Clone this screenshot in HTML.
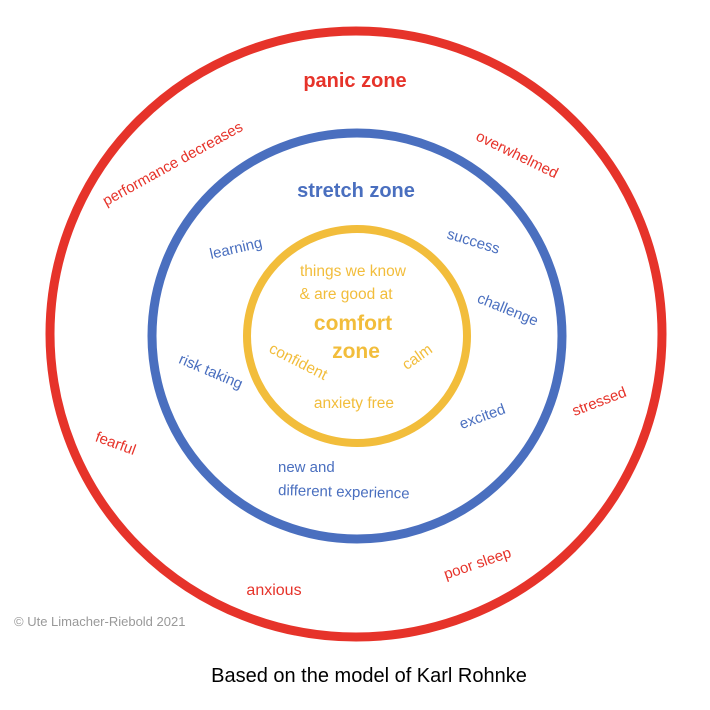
<!DOCTYPE html>
<html><head><meta charset="utf-8"><style>
html,body{margin:0;padding:0;background:#fff;}
svg{display:block;}
text{font-family:"Liberation Sans",sans-serif;}
</style></head><body>
<svg width="710" height="710" viewBox="0 0 710 710" xmlns="http://www.w3.org/2000/svg">
<ellipse cx="356" cy="334" rx="306" ry="303" fill="none" stroke="#e6332a" stroke-width="9"/>
<ellipse cx="357" cy="336" rx="205" ry="203" fill="none" stroke="#4a6fbf" stroke-width="9"/>
<ellipse cx="357" cy="336" rx="110" ry="107" fill="none" stroke="#f2bd3b" stroke-width="8"/>

<g fill="#e6332a" font-size="15" text-anchor="middle">
<text x="355" y="87" font-size="20" font-weight="bold">panic zone</text>
<text transform="translate(175,168) rotate(-29)">performance decreases</text>
<text transform="translate(515,159) rotate(26)">overwhelmed</text>
<text transform="translate(601,406) rotate(-21)">stressed</text>
<text transform="translate(114,448) rotate(20)">fearful</text>
<text transform="translate(479,568) rotate(-19)">poor sleep</text>
<text x="274" y="595" font-size="16">anxious</text>
</g>

<g fill="#4a6fbf" font-size="15" text-anchor="middle">
<text x="356" y="197" font-size="20" font-weight="bold">stretch zone</text>
<text transform="translate(237,253) rotate(-13)">learning</text>
<text transform="translate(472,246) rotate(17)">success</text>
<text transform="translate(506,314) rotate(22)">challenge</text>
<text transform="translate(209,376) rotate(23)">risk taking</text>
<text transform="translate(484,421) rotate(-20)">excited</text>
<text x="278" y="472" text-anchor="start">new and</text>
<text x="278" y="495" text-anchor="start" transform="rotate(1.5,278,495)">different experience</text>
</g>

<g fill="#f2bd3b" font-size="15.5" text-anchor="middle">
<text x="353" y="276">things we know</text>
<text x="346" y="299">&amp; are good at</text>
<text x="353" y="330" font-size="21" font-weight="bold">comfort</text>
<text x="356" y="358" font-size="21" font-weight="bold">zone</text>
<text transform="translate(296,366) rotate(27)">confident</text>
<text transform="translate(420,361) rotate(-35)">calm</text>
<text x="354" y="408">anxiety free</text>
</g>

<text x="14" y="626" fill="#999" font-size="13">© Ute Limacher-Riebold 2021</text>
<text x="369" y="682" fill="#000" font-size="20" text-anchor="middle">Based on the model of Karl Rohnke</text>
</svg>
</body></html>
